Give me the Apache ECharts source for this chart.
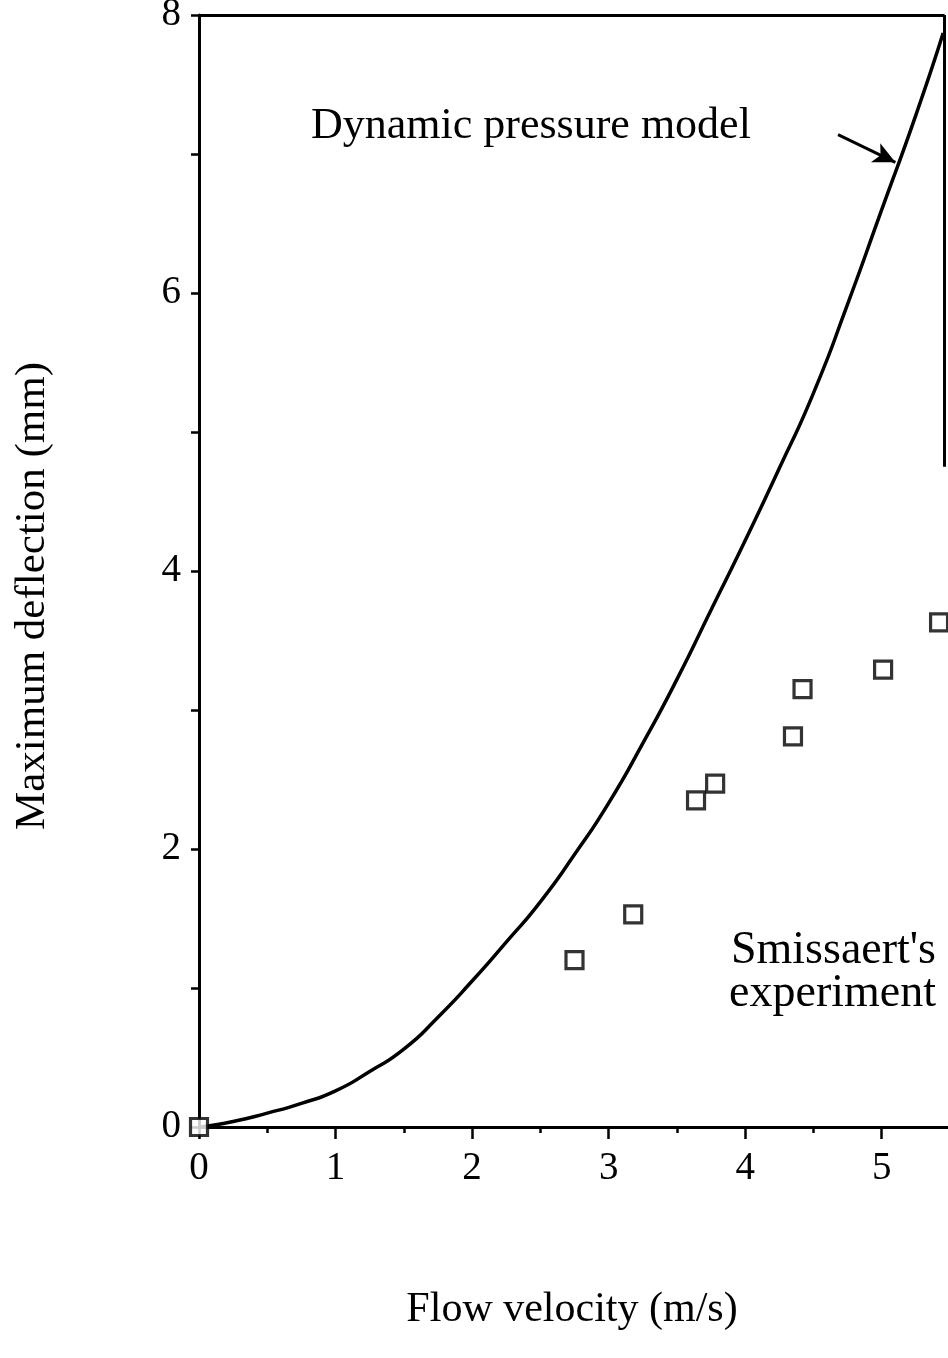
<!DOCTYPE html>
<html>
<head>
<meta charset="utf-8">
<script src="https://cdn.jsdelivr.net/npm/echarts@6/dist/echarts.min.js"></script>
<style>
  html, body { margin: 0; padding: 0; background: #fff; }
  #chart { width: 948px; height: 1358px; }
</style>
</head>
<body>
<div id="chart"></div>
<script>
// model curve: [velocity, deflection]
const modelCurve = [
  [0, 0], [0.25, 0.04], [0.5, 0.1], [0.75, 0.17], [1, 0.26], [1.25, 0.4],
  [1.5, 0.56], [1.75, 0.79], [2, 1.05], [2.25, 1.33], [2.5, 1.62],
  [2.75, 1.96], [3, 2.33], [3.25, 2.76], [3.5, 3.22], [3.75, 3.72],
  [4, 4.22], [4.25, 4.74], [4.5, 5.28], [4.75, 5.92], [5, 6.6],
  [5.25, 7.28], [5.45, 7.87]
]

// Smissaert's experiment points
const experiment = [
  [0, 0], [2.75, 1.2], [3.18, 1.53], [3.64, 2.35], [3.78, 2.47],
  [4.35, 2.81], [4.42, 3.15], [5.01, 3.29], [5.42, 3.63]
]

const xTickLabels = ['0', '1', '2', '3', '4', '5']
const yTickLabels = ['0', '2', '4', '6', '8']

const serif = 'Liberation Serif'
const chart = echarts.init(document.getElementById('chart'), null, { renderer: 'canvas' })

chart.setOption({
  animation: false,
  backgroundColor: '#fff',
  textStyle: { fontFamily: serif, color: '#000' },
  grid: { left: 199, right: -2, top: 15, bottom: 231, containLabel: false, outerBoundsMode: 'none' },
  xAxis: [
    {
      type: 'value', min: 0, max: 5.5, interval: 1,
      splitLine: { show: false },
      axisLine: { lineStyle: { color: '#000', width: 3 } },
      axisTick: { length: 12, lineStyle: { color: '#000', width: 2.5 } },
      axisLabel: {
        margin: 22, fontSize: 39, color: '#000', fontFamily: serif,
        formatter: v => (xTickLabels.includes(String(v)) ? String(v) : '')
      }
    },
    {
      type: 'value', min: 0, max: 5.5, interval: 0.5, position: 'bottom',
      splitLine: { show: false },
      axisLine: { show: false },
      axisTick: { length: 6, lineStyle: { color: '#000', width: 2.5 } },
      axisLabel: { show: false }
    }
  ],
  yAxis: {
    type: 'value', min: 0, max: 8, interval: 1,
    splitLine: { show: false },
    axisLine: { lineStyle: { color: '#000', width: 3 } },
    axisTick: { length: 8, lineStyle: { color: '#000', width: 2.5 } },
    axisLabel: {
      margin: 18, fontSize: 39, color: '#000', fontFamily: serif,
      formatter: v => (yTickLabels.includes(String(v)) ? String(v) : '')
    }
  },
  series: [
    {
      name: 'Dynamic pressure model',
      type: 'line',
      data: modelCurve,
      smooth: 0.6,
      showSymbol: false,
      lineStyle: { color: '#000', width: 3.5 },
      markLine: {
        silent: true,
        symbol: 'none',
        label: { show: false },
        lineStyle: { color: '#000', width: 3, type: 'solid' },
        data: [
          // frame top and right edge
          [{ coord: [0, 8] }, { coord: [5.46, 8] }],
          [{ coord: [5.46, 8] }, { coord: [5.46, 4.75] }],
          // pointer to the curve
          [{ coord: [4.68, 7.14], symbol: 'none' }, { coord: [5.1, 6.94], symbol: 'arrow', symbolSize: [16, 22] }]
        ]
      }
    },
    {
      name: "Smissaert's experiment",
      type: 'scatter',
      data: experiment,
      symbol: 'rect',
      symbolSize: 17,
      itemStyle: { color: '#fff', borderColor: '#000', borderWidth: 3.2 },
      z: 5
    }
  ],
  graphic: [
    {
      type: 'text', left: 311, top: 104,
      style: { text: 'Dynamic pressure model', font: '44px "Liberation Serif"', fill: '#000' }
    },
    {
      type: 'text', x: 936, y: 972,
      style: {
        text: "Smissaert's\nexperiment", font: '46px "Liberation Serif"', fill: '#000',
        align: 'right', verticalAlign: 'middle', lineHeight: 43
      }
    },
    {
      type: 'text', x: 572, y: 1310,
      style: {
        text: 'Flow velocity (m/s)', font: '42px "Liberation Serif"', fill: '#000',
        align: 'center', verticalAlign: 'middle'
      }
    },
    {
      type: 'text', x: 33, y: 596, rotation: Math.PI / 2,
      style: {
        text: 'Maximum deflection (mm)', font: '43px "Liberation Serif"', fill: '#000',
        align: 'center', verticalAlign: 'middle'
      }
    }
  ]
})
</script>
</body>
</html>
